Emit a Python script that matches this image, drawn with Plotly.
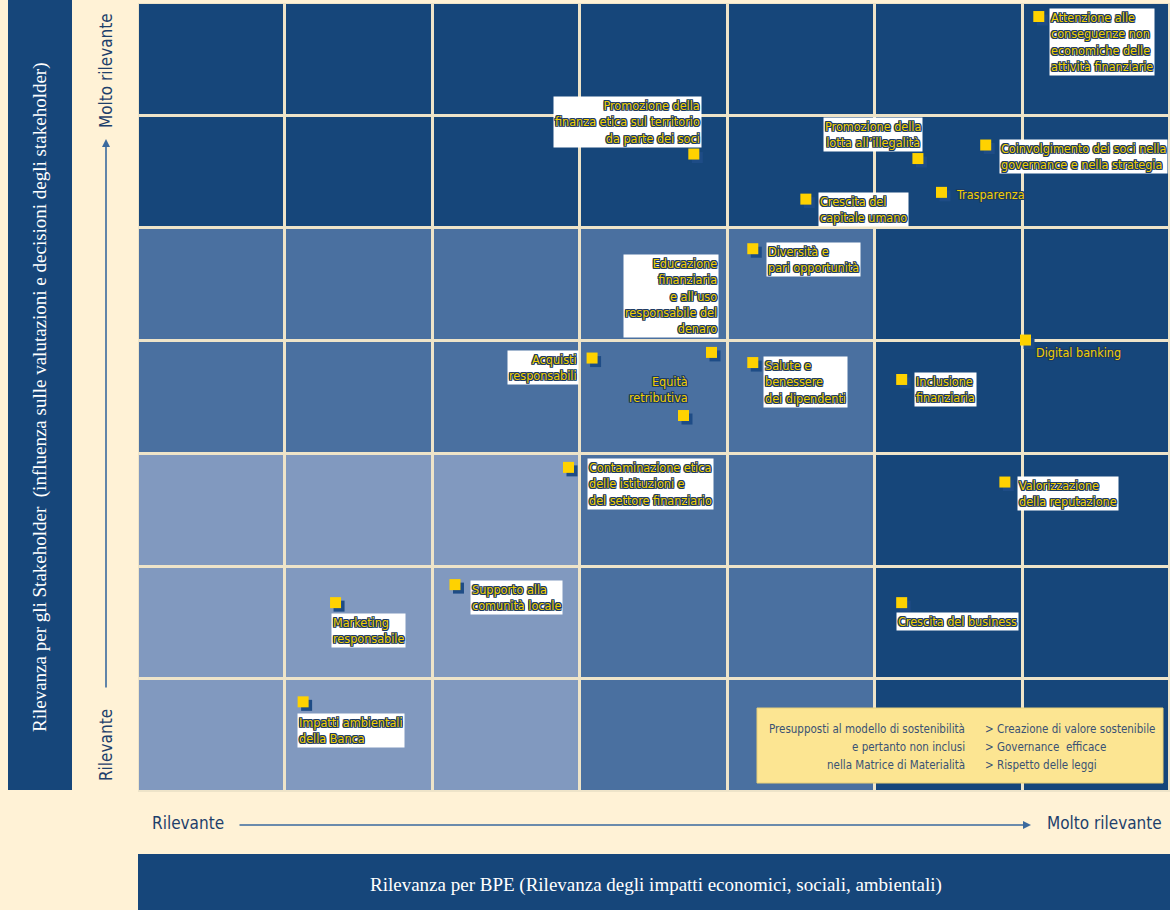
import plotly.graph_objects as go

# ---------------- data ----------------
# relevance zones of the 7x7 matrix, rows from bottom ("Rilevante") to top ("Molto rilevante")
# 0 = light, 1 = medium, 2 = dark
ZONE_LEVELS = [
    [0, 0, 0, 1, 1, 2, 2],
    [0, 0, 0, 1, 1, 2, 2],
    [0, 0, 0, 1, 1, 2, 2],
    [1, 1, 1, 1, 1, 2, 2],
    [1, 1, 1, 1, 1, 2, 2],
    [2, 2, 2, 2, 2, 2, 2],
    [2, 2, 2, 2, 2, 2, 2],
]
CELL_CENTERS = [0.5, 1.5, 2.5, 3.5, 4.5, 5.5, 6.5]

TOPICS = [
    "Attenzione alle<br>conseguenze non<br>economiche delle<br>attività finanziarie",
    "Promozione della<br>finanza etica sul territorio<br>da parte dei soci",
    "Promozione della<br>lotta all’illegalità",
    "Coinvolgimento dei soci nella<br>governance e nella strategia",
    "Trasparenza",
    "Crescita del<br>capitale umano",
    "Diversità e<br>pari opportunità",
    "Educazione<br>finanziaria<br>e all’uso<br>responsabile del<br>denaro",
    "Acquisti<br>responsabili",
    "Equità<br>retributiva",
    "Salute e<br>benessere<br>dei dipendenti",
    "Inclusione<br>finanziaria",
    "Digital banking",
    "Valorizzazione<br>della reputazione",
    "Contaminazione etica<br>delle istituzioni e<br>del settore finanziario",
    "Supporto alla<br>comunità locale",
    "Marketing<br>responsabile",
    "Crescita del business",
    "Impatti ambientali<br>della Banca",
]
# Rilevanza per BPE (x) and Rilevanza per gli Stakeholder (y), in matrix cell units 0..7
X_BPE = [6.11, 3.77, 5.29, 5.75, 5.45, 4.53, 4.17, 3.89, 3.08, 3.70,
         4.17, 5.18, 6.02, 5.88, 2.92, 2.15, 1.34, 5.18, 1.12]
Y_STAKE = [6.88, 5.66, 5.62, 5.74, 5.32, 5.26, 4.82, 3.90, 3.85, 3.34,
           3.81, 3.66, 4.01, 2.75, 2.88, 1.84, 1.68, 1.68, 0.80]

LEGEND_LEFT = ["Presupposti al modello di sostenibilità",
               "e pertanto non inclusi",
               "nella Matrice di Materialità"]
LEGEND_RIGHT = ["> Creazione di valore sostenibile",
                "> Governance  efficace",
                "> Rispetto delle leggi"]

X_TITLE = "Rilevanza per BPE (Rilevanza degli impatti economici, sociali, ambientali)"
Y_TITLE = "Rilevanza per gli Stakeholder  (influenza sulle valutazioni e decisioni degli stakeholder)"
LOW_LABEL = "Rilevante"
HIGH_LABEL = "Molto rilevante"

# ---------------- style / layout ----------------
W_FIG, H_FIG = 1170, 910
L, T, R, B = 138, 3, 0, 118
PW, PH = W_FIG - L - R, H_FIG - T - B

def xp(px):
    return (px - L) / PW

def yp(py):
    return (T + PH - py) / PH

CREAM = "#FFF2D6"
GRIDLINE = "#EEE4C9"
LIGHT, MEDIUM, DARK = "#8199BF", "#4A70A0", "#16467A"
NAVY = "#1D3F6B"
YELLOW = "#FFD200"
LABEL_YELLOW = "#F2CE00"
OUTLINE = "#1B3A62"
NARROW = "Liberation Sans Narrow, Arial Narrow, DejaVu Sans Condensed, Roboto, sans-serif"
SERIF = "Liberation Serif, Times New Roman, serif"

# label placement: (xshift, yshift, xanchor, yanchor, align, white box)
LABEL_POS = [
    (10, 9, "left", "top", "left", True),
    (8, 6, "right", "bottom", "right", True),
    (5, 7, "right", "bottom", "center", True),
    (13, 6, "left", "top", "left", True),
    (13, -2, "left", "middle", "left", False),
    (12, 7, "left", "top", "left", True),
    (13, 7, "left", "top", "left", True),
    (7, 14, "right", "bottom", "right", True),
    (-13, 8, "right", "top", "right", True),
    (7, 9, "right", "bottom", "right", False),
    (10, 7, "left", "top", "left", True),
    (12, 7, "left", "top", "left", True),
    (8, -12, "left", "middle", "left", False),
    (12, 6, "left", "top", "left", True),
    (19, 9, "left", "top", "left", True),
    (15, 5, "left", "top", "left", True),
    (-5, -10, "left", "top", "left", True),
    (-6, -9, "left", "top", "left", True),
    (-6, -11, "left", "top", "left", True),
]

fig = go.Figure()

fig.add_trace(go.Heatmap(
    x=CELL_CENTERS, y=CELL_CENTERS, z=ZONE_LEVELS,
    zmin=0, zmax=2,
    colorscale=[[0, LIGHT], [0.333, LIGHT], [0.333, MEDIUM], [0.667, MEDIUM],
                [0.667, DARK], [1, DARK]],
    showscale=False, xgap=3, ygap=3, hoverinfo="skip",
))

# marker shadow (offset of ~3px)
dx, dy = 3.5 / (PW / 7), 3.5 / (PH / 7)
fig.add_trace(go.Scatter(
    x=[v + dx for v in X_BPE], y=[v - dy for v in Y_STAKE], mode="markers",
    marker=dict(symbol="square", size=11, color="#1E4C86", line=dict(width=0)),
    hoverinfo="skip", showlegend=False,
))
fig.add_trace(go.Scatter(
    x=X_BPE, y=Y_STAKE, mode="markers",
    marker=dict(symbol="square", size=11, color=YELLOW, line=dict(width=0)),
    hoverinfo="skip", showlegend=False,
))

outline = ", ".join(f"{a}px {b}px 0 {OUTLINE}" for a, b in
                    [(1, 1), (-1, -1), (1, -1), (-1, 1), (1, 0), (-1, 0), (0, 1), (0, -1)])

annotations = []
for txt, xv, yv, (xs, ys, xa, ya, al, boxed) in zip(TOPICS, X_BPE, Y_STAKE, LABEL_POS):
    annotations.append(dict(
        x=xv, y=yv, xref="x", yref="y", text=txt, showarrow=False,
        xshift=xs, yshift=ys, xanchor=xa, yanchor=ya, align=al,
        bgcolor="white" if boxed else "rgba(0,0,0,0)", borderpad=1,
        font=dict(family=NARROW, size=12.5, color=LABEL_YELLOW, shadow=outline),
    ))

# legend box texts
for i, (lt, rt) in enumerate(zip(LEGEND_LEFT, LEGEND_RIGHT)):
    yy = 729 + 18 * i
    annotations.append(dict(x=xp(967), y=yp(yy), xref="paper", yref="paper", text=lt,
                            showarrow=False, xanchor="right", yanchor="middle",
                            font=dict(family=NARROW, size=11.5, color="#3A5274")))
    annotations.append(dict(x=xp(983), y=yp(yy), xref="paper", yref="paper", text=rt,
                            showarrow=False, xanchor="left", yanchor="middle",
                            font=dict(family=NARROW, size=11.5, color="#3A5274")))

# axis scale labels
annotations += [
    dict(x=xp(150), y=yp(823), xref="paper", yref="paper", text=LOW_LABEL, showarrow=False,
         xanchor="left", yanchor="middle", font=dict(family=NARROW, size=17, color=NAVY)),
    dict(x=xp(1164), y=yp(823), xref="paper", yref="paper", text=HIGH_LABEL, showarrow=False,
         xanchor="right", yanchor="middle", font=dict(family=NARROW, size=17, color=NAVY)),
    dict(x=xp(106), y=yp(745), xref="paper", yref="paper", text=LOW_LABEL, showarrow=False,
         textangle=-90, xanchor="center", yanchor="middle",
         font=dict(family=NARROW, size=17, color=NAVY)),
    dict(x=xp(106), y=yp(71), xref="paper", yref="paper", text=HIGH_LABEL, showarrow=False,
         textangle=-90, xanchor="center", yanchor="middle",
         font=dict(family=NARROW, size=17, color=NAVY)),
    # arrows
    dict(x=xp(1031), y=yp(825), xref="paper", yref="paper", text="", showarrow=True,
         ax=-793, ay=0, arrowhead=2, arrowsize=1, arrowwidth=1.6, arrowcolor="#3B6A9E"),
    dict(x=xp(106), y=yp(139), xref="paper", yref="paper", text="", showarrow=True,
         ax=0, ay=550, arrowhead=2, arrowsize=1, arrowwidth=1.6, arrowcolor="#3B6A9E"),
    # titles
    dict(x=xp(40), y=yp(397), xref="paper", yref="paper", text=Y_TITLE, showarrow=False,
         textangle=-90, xanchor="center", yanchor="middle",
         font=dict(family=SERIF, size=19, color="white")),
    dict(x=xp(656), y=yp(885), xref="paper", yref="paper", text=X_TITLE, showarrow=False,
         xanchor="center", yanchor="middle",
         font=dict(family=SERIF, size=19, color="white")),
]

shapes = [
    # left title band
    dict(type="rect", xref="paper", yref="paper", x0=xp(8), x1=xp(72), y0=yp(790), y1=yp(0),
         fillcolor=DARK, line=dict(width=0), layer="below"),
    # bottom title band
    dict(type="rect", xref="paper", yref="paper", x0=xp(138), x1=xp(1170), y0=yp(910), y1=yp(854),
         fillcolor=DARK, line=dict(width=0), layer="below"),
    # legend box
    dict(type="rect", xref="paper", yref="paper", x0=xp(757), x1=xp(1163), y0=yp(783), y1=yp(708),
         fillcolor="#FCE592", line=dict(width=1, color="#E6CF7A"), layer="above"),
]

fig.update_layout(
    width=W_FIG, height=H_FIG,
    margin=dict(l=L, r=R, t=T, b=B, pad=0),
    paper_bgcolor=CREAM, plot_bgcolor=GRIDLINE,
    xaxis=dict(range=[0, 7], showgrid=False, zeroline=False, showticklabels=False,
               ticks="", fixedrange=True),
    yaxis=dict(range=[0, 7], showgrid=False, zeroline=False, showticklabels=False,
               ticks="", fixedrange=True),
    annotations=annotations, shapes=shapes, showlegend=False,
)

fig.write_html("out.html", config={"displayModeBar": False},
               post_script="document.body.style.margin='0';document.body.style.overflow='hidden';")
